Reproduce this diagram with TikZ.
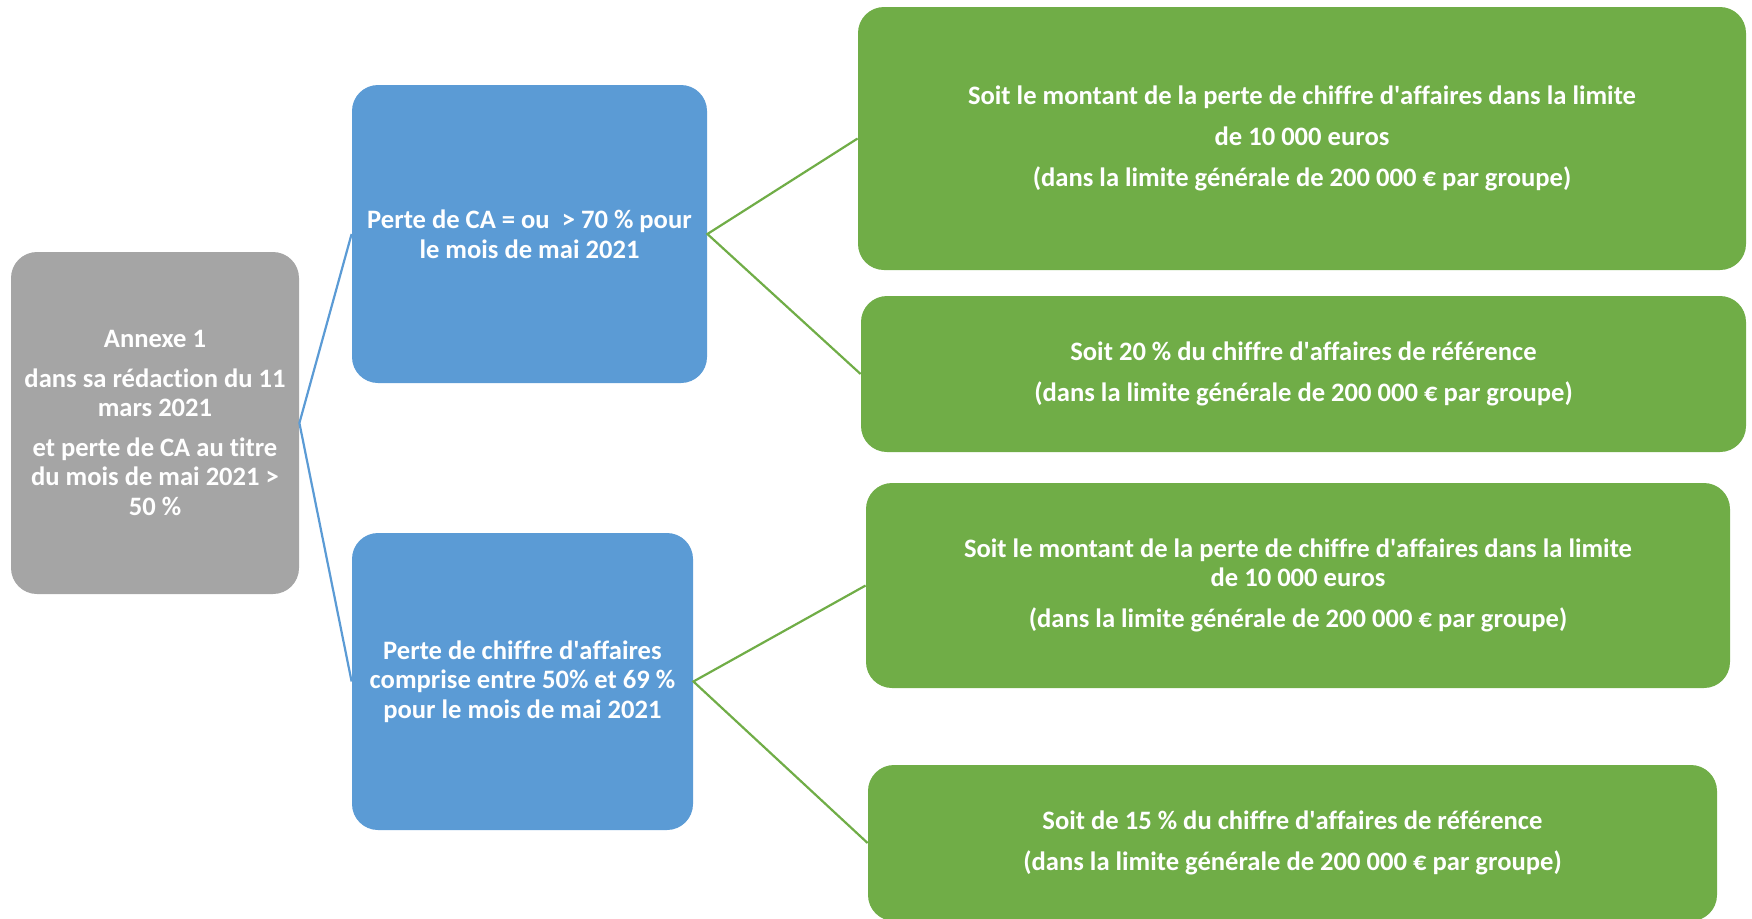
\documentclass[tikz,border=0pt]{standalone}
\usepackage{fontspec}
\setmainfont{Carlito}[Ligatures={NoCommon}]
\definecolor{boxgray}{HTML}{A5A5A5}
\definecolor{boxblue}{HTML}{5B9BD5}
\definecolor{boxgreen}{HTML}{70AD47}
\newcommand{\apos}{\textquotesingle}
\tikzset{
  box/.style={rectangle, rounded corners=13pt, inner sep=0pt, align=center,
    text=white, font=\fontsize{13.3}{14.8}\selectfont\bfseries},
  graybox/.style={box, fill=boxgray},
  bluebox/.style={box, fill=boxblue},
  greenbox/.style={box, fill=boxgreen},
  blueline/.style={draw=boxblue, line width=1.1pt},
  greenline/.style={draw=boxgreen, line width=1.1pt},
}
\begin{document}
\begin{tikzpicture}[x=0.5pt, y=-0.5pt]
\useasboundingbox (0,0) rectangle (1752,918);
\node[graybox, minimum width=144pt, minimum height=171pt] (a) at (155,423)
  {Annexe 1\\[5pt]dans sa rédaction du 11\\mars 2021\\[5pt]et perte de CA au titre\\du mois de mai 2021 >\\50 \%};
\node[bluebox, minimum width=177.5pt, minimum height=149pt] (b1) at (529.5,234)
  {Perte de CA = ou\ \ > 70 \% pour\\le mois de mai 2021};
\node[bluebox, minimum width=170.5pt, minimum height=148.5pt] (b2) at (522.5,681.5)
  {Perte de chiffre d\apos affaires\\comprise entre 50\% et 69 \%\\pour le mois de mai 2021};
\node[greenbox, minimum width=444pt, minimum height=131.5pt] (g1) at (1302,138.5)
  {Soit le montant de la perte de chiffre d\apos affaires dans la limite\\[5.7pt]de 10 000 euros\\[5.7pt](dans la limite générale de 200 000 € par groupe)};
\node[greenbox, minimum width=442.5pt, minimum height=78pt] (g2) at (1303.5,374)
  {Soit 20 \% du chiffre d\apos affaires de référence\\[5.7pt](dans la limite générale de 200 000 € par groupe)};
\node[greenbox, minimum width=432pt, minimum height=102.5pt] (g3) at (1298,585.5)
  {Soit le montant de la perte de chiffre d\apos affaires dans la limite\\de 10 000 euros\\[5.7pt](dans la limite générale de 200 000 € par groupe)};
\node[greenbox, minimum width=424.5pt, minimum height=78pt] (g4) at (1292.5,843)
  {Soit de 15 \% du chiffre d\apos affaires de référence\\[5.7pt](dans la limite générale de 200 000 € par groupe)};
\draw[blueline] (b1.west) -- (a.east) -- (b2.west);
\draw[greenline] (g1.west) -- (b1.east) -- (g2.west);
\draw[greenline] (g3.west) -- (b2.east) -- (g4.west);
\end{tikzpicture}
\end{document}
